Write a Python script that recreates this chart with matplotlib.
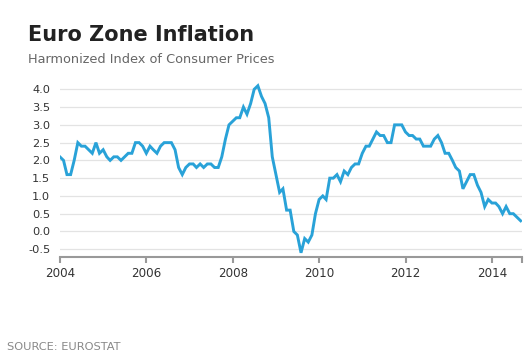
import matplotlib
matplotlib.use("Agg")
import matplotlib.pyplot as plt
import matplotlib.dates as mdates
import pandas as pd

# Monthly HICP annual rate, Dec 2003 .. Aug 2014
start_month = "2003-12-31"
inflation = [
    2.1, 2.0, 1.6, 1.6, 2.0, 2.5, 2.4, 2.4, 2.3, 2.2, 2.5, 2.2,
    2.3, 2.1, 2.0, 2.1, 2.1, 2.0, 2.1, 2.2, 2.2, 2.5, 2.5, 2.4,
    2.2, 2.4, 2.3, 2.2, 2.4, 2.5, 2.5, 2.5, 2.3, 1.8, 1.6, 1.8,
    1.9, 1.9, 1.8, 1.9, 1.8, 1.9, 1.9, 1.8, 1.8, 2.1, 2.6, 3.0,
    3.1, 3.2, 3.2, 3.5, 3.3, 3.6, 4.0, 4.1, 3.8, 3.6, 3.2, 2.1,
    1.6, 1.1, 1.2, 0.6, 0.6, 0.0, -0.1, -0.6, -0.2, -0.3, -0.1, 0.5,
    0.9, 1.0, 0.9, 1.5, 1.5, 1.6, 1.4, 1.7, 1.6, 1.8, 1.9, 1.9,
    2.2, 2.4, 2.4, 2.6, 2.8, 2.7, 2.7, 2.5, 2.5, 3.0, 3.0, 3.0,
    2.8, 2.7, 2.7, 2.6, 2.6, 2.4, 2.4, 2.4, 2.6, 2.7, 2.5, 2.2,
    2.2, 2.0, 1.8, 1.7, 1.2, 1.4, 1.6, 1.6, 1.3, 1.1, 0.7, 0.9,
    0.8, 0.8, 0.7, 0.5, 0.7, 0.5, 0.5, 0.4, 0.3,
]
year_ticks = [2004, 2006, 2008, 2010, 2012, 2014]
y_ticks = [-0.5, 0.0, 0.5, 1.0, 1.5, 2.0, 2.5, 3.0, 3.5, 4.0]

dates = pd.date_range(start_month, periods=len(inflation), freq="ME")

fig = plt.figure(figsize=(5.28, 3.57), dpi=100)
ax = fig.add_axes([0.1136, 0.281, 0.8745, 0.4887])

ax.plot(dates, inflation, color="#29a2d8", linewidth=2.1, solid_joinstyle="miter")

x_end = pd.Timestamp("2014-09-09")
ax.set_xlim(pd.Timestamp("2004-01-01"), x_end)
ax.set_ylim(-0.71, 4.2)

# y axis: grid only, no ticks
ax.set_yticks(y_ticks)
ax.set_yticklabels([f"{v:.1f}" for v in y_ticks])
ax.grid(axis="y", color="#e3e3e3", linewidth=0.9)
ax.set_axisbelow(True)
ax.tick_params(axis="y", length=0, pad=7, labelsize=8.2, labelcolor="#333333")

# x axis: year ticks plus the outer tick at the end of the domain
ax.set_xticks([pd.Timestamp(f"{y}-01-01") for y in year_ticks])
ax.xaxis.set_major_formatter(mdates.DateFormatter("%Y"))
ax.set_xticks([x_end], minor=True)
ax.tick_params(axis="x", which="both", length=4.5, width=1.5, color="#999999",
               pad=3, labelsize=8.6, labelcolor="#333333")

for side in ["top", "right", "left"]:
    ax.spines[side].set_visible(False)
ax.spines["bottom"].set_color("#999999")
ax.spines["bottom"].set_linewidth(1.5)

fig.text(0.053, 0.886, "Euro Zone Inflation", fontsize=15, fontweight="bold",
         color="#222222", va="baseline")
fig.text(0.053, 0.8244, "Harmonized Index of Consumer Prices", fontsize=9.3,
         color="#666666", va="baseline")
fig.text(0.013, 0.0196, "SOURCE: EUROSTAT", fontsize=8.2, color="#888888",
         va="baseline")

fig.savefig("out.png", dpi=100)
